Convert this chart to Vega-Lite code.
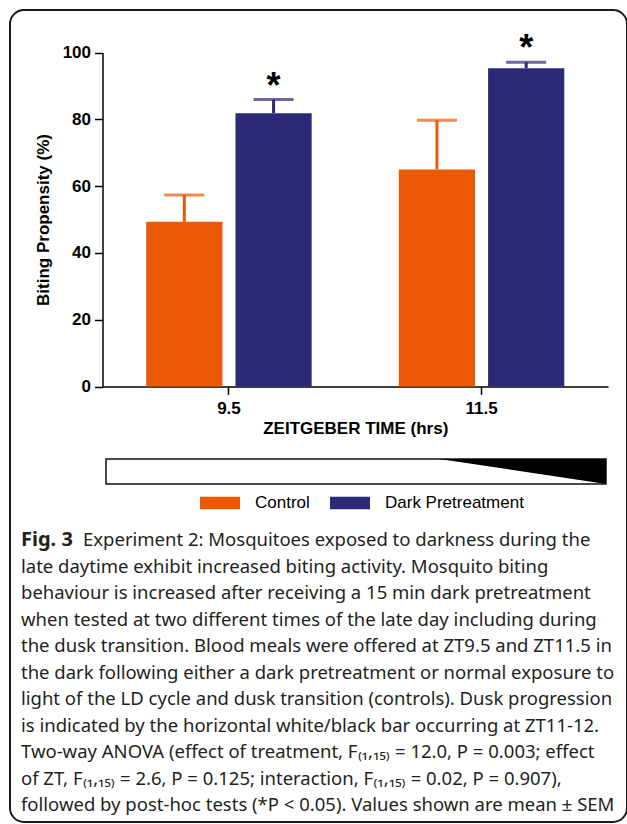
{
  "$schema": "https://vega.github.io/schema/vega-lite/v6.json",
  "width": 617,
  "height": 812,
  "autosize": {"type": "none"},
  "padding": {"left": 10, "top": 10, "right": 0, "bottom": 2},
  "background": "white",
  "config": {
    "view": {"stroke": "#1a1a1a", "strokeWidth": 2, "cornerRadius": 14},
    "axis": {"grid": false}
  },
  "datasets": {
    "bars": [
      {"ZT": "9.5", "group": "Control", "mean": 49.3, "upper": 57.3, "sig": ""},
      {"ZT": "9.5", "group": "Dark Pretreatment", "mean": 81.8, "upper": 85.9, "sig": "*"},
      {"ZT": "11.5", "group": "Control", "mean": 65.0, "upper": 79.7, "sig": ""},
      {"ZT": "11.5", "group": "Dark Pretreatment", "mean": 95.3, "upper": 97.1, "sig": "*"}
    ],
    "dusk_bar": [{"start": 9, "end": 12, "low": 0, "high": 1}],
    "dusk_fade": [{"zt": 11, "top": 1, "bottom": 1}, {"zt": 12, "top": 1, "bottom": 0}],
    "caption": [
      {"line": 1, "part": "label", "text": "Fig. 3"},
      {"line": 1, "part": "lead", "text": "Experiment 2: Mosquitoes exposed to darkness during the"},
      {"line": 2, "part": "body", "text": "late daytime exhibit increased biting activity. Mosquito biting"},
      {"line": 3, "part": "body", "text": "behaviour is increased after receiving a 15 min dark pretreatment"},
      {"line": 4, "part": "body", "text": "when tested at two different times of the late day including during"},
      {"line": 5, "part": "body", "text": "the dusk transition. Blood meals were offered at ZT9.5 and ZT11.5 in"},
      {"line": 6, "part": "body", "text": "the dark following either a dark pretreatment or normal exposure to"},
      {"line": 7, "part": "body", "text": "light of the LD cycle and dusk transition (controls). Dusk progression"},
      {"line": 8, "part": "body", "text": "is indicated by the horizontal white/black bar occurring at ZT11-12."},
      {"line": 9, "part": "body", "text": "Two-way ANOVA (effect of treatment, F₍₁,₁₅₎ = 12.0, P = 0.003; effect"},
      {"line": 10, "part": "body", "text": "of ZT, F₍₁,₁₅₎ = 2.6, P = 0.125; interaction, F₍₁,₁₅₎ = 0.02, P = 0.907),"},
      {"line": 11, "part": "body", "text": "followed by post-hoc tests (*P < 0.05). Values shown are mean ± SEM"}
    ]
  },
  "layer": [
    {
      "data": {"name": "bars"},
      "encoding": {
        "x": {
          "field": "ZT", "type": "nominal", "sort": ["9.5", "11.5"],
          "scale": {"range": [92.5, 598], "paddingInner": 0.345, "paddingOuter": 0.173},
          "axis": {
            "title": "ZEITGEBER TIME (hrs)", "offset": -435.5, "labelAngle": 0,
            "domainColor": "black", "domainWidth": 1.5, "tickColor": "black", "tickWidth": 1.5, "tickSize": 8,
            "labelFont": "Liberation Sans", "labelFontWeight": "bold", "labelFontSize": 17, "labelColor": "black", "labelPadding": 6,
            "titleFont": "Liberation Sans", "titleFontWeight": "bold", "titleFontSize": 17, "titleColor": "black", "titlePadding": 4
          }
        },
        "xOffset": {"field": "group", "type": "nominal", "sort": ["Control", "Dark Pretreatment"], "scale": {"paddingInner": 0.146, "paddingOuter": 0}}
      },
      "layer": [
        {
          "mark": {"type": "bar"},
          "encoding": {
            "y": {
              "field": "mean", "type": "quantitative", "title": "Biting Propensity (%)",
              "scale": {"domain": [0, 100], "range": [376.5, 42.5], "nice": false, "zero": true},
              "axis": {
                "title": "Biting Propensity (%)", "offset": -92.5, "values": [0, 20, 40, 60, 80, 100],
                "domainColor": "black", "domainWidth": 1.5, "tickColor": "black", "tickWidth": 1.5, "tickSize": 8,
                "labelFont": "Liberation Sans", "labelFontWeight": "bold", "labelFontSize": 17, "labelColor": "black", "labelPadding": 4,
                "titleFont": "Liberation Sans", "titleFontWeight": "bold", "titleFontSize": 17, "titleColor": "black", "titlePadding": 10
              }
            },
            "color": {
              "field": "group", "type": "nominal",
              "scale": {"domain": ["Control", "Dark Pretreatment"], "range": ["#EB5905", "#2C2977"]},
              "legend": {
                "orient": "none", "legendX": 190, "legendY": 473, "direction": "horizontal", "title": null,
                "symbolType": "M-1,-0.31H1V0.31H-1Z", "symbolSize": 1600, "symbolStrokeWidth": 0,
                "labelFont": "Liberation Sans", "labelFontSize": 17, "labelColor": "black",
                "labelOffset": 15, "columnPadding": 20, "padding": 0
              }
            }
          }
        },
        {
          "mark": {"type": "rule", "strokeWidth": 3},
          "encoding": {
            "y": {"field": "mean", "type": "quantitative", "title": "Biting Propensity (%)"},
            "y2": {"field": "upper"},
            "color": {"field": "group", "type": "nominal", "legend": null}
          }
        },
        {
          "mark": {"type": "tick", "thickness": 3, "size": 40},
          "encoding": {
            "y": {"field": "upper", "type": "quantitative", "title": "Biting Propensity (%)"},
            "color": {"field": "group", "type": "nominal", "legend": null}
          }
        },
        {
          "mark": {"type": "text", "font": "Liberation Sans", "fontWeight": "bold", "fontSize": 36, "baseline": "alphabetic", "dy": -2, "color": "black"},
          "encoding": {
            "y": {"field": "upper", "type": "quantitative", "title": "Biting Propensity (%)"},
            "text": {"field": "sig"}
          }
        }
      ]
    },
    {
      "layer": [
        {
          "data": {"name": "dusk_bar"},
          "mark": {"type": "rect", "fill": "white", "stroke": "#111", "strokeWidth": 1.5},
          "encoding": {
            "x": {"field": "start", "type": "quantitative", "scale": {"domain": [9, 12], "range": [96, 596], "nice": false, "zero": false}, "axis": null},
            "x2": {"field": "end"},
            "y": {"field": "low", "type": "quantitative", "scale": {"domain": [0, 1], "range": [474, 449], "nice": false, "zero": false}, "axis": null},
            "y2": {"field": "high"}
          }
        },
        {
          "data": {"name": "dusk_fade"},
          "mark": {"type": "area", "color": "black", "interpolate": "linear"},
          "encoding": {
            "x": {"field": "zt", "type": "quantitative"},
            "y": {"field": "top", "type": "quantitative"},
            "y2": {"field": "bottom"}
          }
        }
      ]
    },
    {
      "data": {"name": "caption"},
      "encoding": {
        "y": {"field": "line", "type": "quantitative", "scale": {"domain": [1, 11], "range": [530, 795], "nice": false, "zero": false}, "axis": null},
        "text": {"field": "text"}
      },
      "layer": [
        {
          "transform": [{"filter": "datum.part == 'label'"}],
          "mark": {"type": "text", "align": "left", "baseline": "middle", "font": "Noto Sans", "fontWeight": "bold", "fontSize": 20, "color": "#231F20", "x": 11}
        },
        {
          "transform": [{"filter": "datum.part == 'lead'"}],
          "mark": {"type": "text", "align": "left", "baseline": "middle", "font": "Noto Sans", "fontSize": 18.5, "color": "#231F20", "x": 11, "dx": 62}
        },
        {
          "transform": [{"filter": "datum.part == 'body'"}],
          "mark": {"type": "text", "align": "left", "baseline": "middle", "font": "Noto Sans", "fontSize": 18.5, "color": "#231F20", "x": 11}
        }
      ]
    }
  ],
  "resolve": {
    "scale": {"x": "independent", "y": "independent"},
    "axis": {"x": "independent", "y": "independent"}
  }
}
